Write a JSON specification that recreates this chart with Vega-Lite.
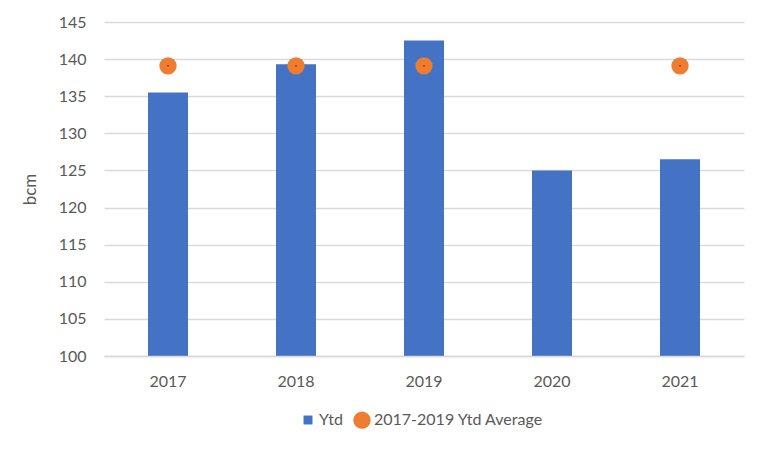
{
  "$schema": "https://vega.github.io/schema/vega-lite/v6.json",
  "width": 640,
  "height": 334,
  "autosize": {"type": "none"},
  "padding": {"left": 104, "top": 22, "right": 22, "bottom": 96},
  "background": "white",
  "data": {
    "values": [
      {"year": "2017", "series": "Ytd", "value": 135.5},
      {"year": "2018", "series": "Ytd", "value": 139.3},
      {"year": "2019", "series": "Ytd", "value": 142.5},
      {"year": "2020", "series": "Ytd", "value": 125.0},
      {"year": "2021", "series": "Ytd", "value": 126.5},
      {"year": "2017", "series": "2017-2019 Ytd Average", "value": 139.1},
      {"year": "2018", "series": "2017-2019 Ytd Average", "value": 139.1},
      {"year": "2019", "series": "2017-2019 Ytd Average", "value": 139.1},
      {"year": "2021", "series": "2017-2019 Ytd Average", "value": 139.1}
    ]
  },
  "config": {
    "view": {"stroke": null},
    "font": "Lato",
    "axis": {"labelFont": "Lato", "titleFont": "Lato", "labelColor": "#595959", "titleColor": "#595959", "labelFontSize": 16, "titleFontSize": 17, "titleFontWeight": "normal"},
    "legend": {"labelFont": "Lato", "labelFontSize": 16, "labelColor": "#595959", "labelLimit": 400}
  },
  "encoding": {
    "x": {
      "field": "year", "type": "ordinal", "title": null,
      "scale": {"paddingInner": 0, "paddingOuter": 0},
      "axis": {"labelAngle": 0, "ticks": false, "domainColor": "#D9D9D9", "domainWidth": 1.5, "labelPadding": 17, "grid": false, "zindex": 1}
    },
    "y": {
      "field": "value", "type": "quantitative", "title": "bcm",
      "scale": {"domain": [100, 145], "zero": false, "nice": false},
      "axis": {"values": [100, 105, 110, 115, 120, 125, 130, 135, 140, 145], "ticks": false, "domain": false, "gridColor": "#D9D9D9", "gridWidth": 1.5, "labelPadding": 18, "titlePadding": 19}
    }
  },
  "layer": [
    {
      "transform": [{"filter": "datum.series === 'Ytd'"}],
      "mark": {"type": "bar", "size": 40, "clip": true},
      "encoding": {
        "color": {
          "field": "series", "type": "nominal",
          "scale": {"domain": ["Ytd", "2017-2019 Ytd Average"], "range": ["#4472C4", "#ED7D31"]},
          "legend": {"title": null, "orient": "none", "direction": "horizontal", "legendX": 196, "legendY": 389, "labelOffset": 3, "columnPadding": 10, "symbolOpacity": 1, "symbolStrokeWidth": 0, "labelLimit": 400}
        }
      }
    },
    {
      "transform": [{"filter": "datum.series !== 'Ytd'"}],
      "mark": {"type": "point", "filled": true, "opacity": 1},
      "encoding": {
        "color": {"field": "series", "type": "nominal", "scale": {"domain": ["Ytd", "2017-2019 Ytd Average"], "range": ["#4472C4", "#ED7D31"]}},
        "shape": {"field": "series", "type": "nominal", "scale": {"domain": ["Ytd", "2017-2019 Ytd Average"], "range": ["square", "circle"]}},
        "size": {"field": "series", "type": "nominal", "scale": {"domain": ["Ytd", "2017-2019 Ytd Average"], "range": [80, 300]}}
      }
    },
    {
      "transform": [{"filter": "datum.series !== 'Ytd'"}],
      "mark": {"type": "point", "filled": true, "opacity": 1, "color": "#FF0000", "size": 3},
      "encoding": {}
    }
  ]
}
